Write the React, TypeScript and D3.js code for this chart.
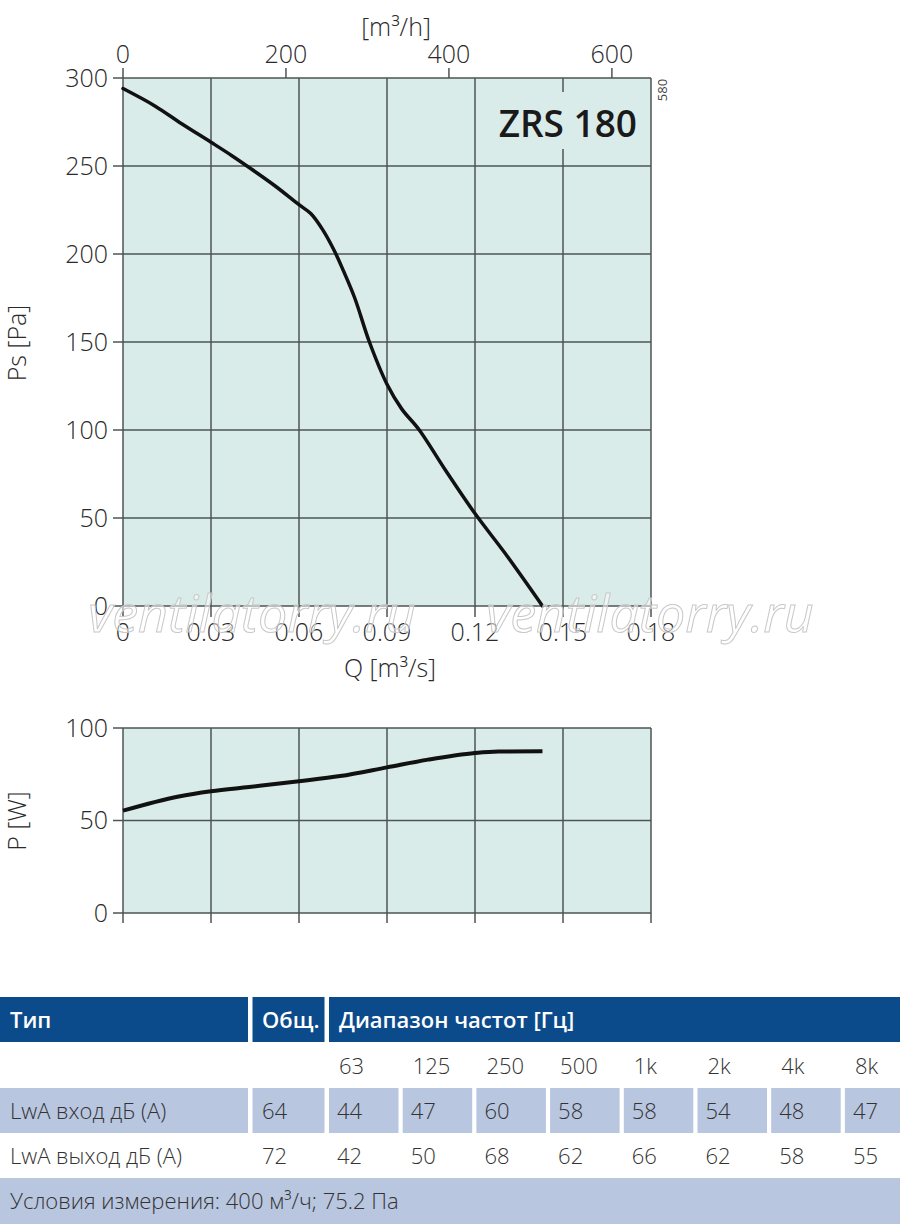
import React, { useEffect, useRef } from "react";
import * as d3 from "d3";

// fan curve: static pressure vs flow
const flowQ = [0, 0.011, 0.02, 0.03, 0.037, 0.044, 0.052, 0.06, 0.064, 0.068, 0.072, 0.075, 0.079, 0.084, 0.09, 0.095, 0.101, 0.11, 0.12, 0.13, 0.143];
const pressurePs = [294, 284, 274, 263.5, 256, 248, 238.5, 228, 223, 214, 202, 191, 175, 150, 126, 112, 100, 77, 52.5, 30.5, 0];

// power curve
const powerQ = [0, 0.019, 0.03, 0.043, 0.06, 0.074, 0.09, 0.104, 0.12, 0.128, 0.143];
const powerP = [55.3, 63, 65.8, 68.1, 71.2, 74, 78.7, 82.9, 86.5, 87.3, 87.4];

const qTicks = [0, 0.03, 0.06, 0.09, 0.12, 0.15, 0.18];
const qTickLabels = ["0", "0.03", "0.06", "0.09", "0.12", "0.15", "0.18"];
const m3hTicks = [0, 200, 400, 600];
const psTicks = [0, 50, 100, 150, 200, 250, 300];
const pTicks = [0, 50, 100];

// sound table
const freqBands = ["63", "125", "250", "500", "1k", "2k", "4k", "8k"];
const inletTotal = "64";
const inletLevels = [44, 47, 60, 58, 58, 54, 48, 47];
const outletTotal = "72";
const outletLevels = [42, 50, 68, 62, 66, 62, 58, 55];

const FONT = "'Open Sans', 'Noto Sans', sans-serif";
const GRID = "#4d5553";
const BG = "#d9ecea";

const App = () => {
  const svgRef = useRef<SVGSVGElement | null>(null);

  useEffect(() => {
    const svg = d3.select(svgRef.current);
    svg.selectAll("*").remove();

    const left = 123;
    const right = 651;

    const x = d3.scaleLinear().domain([0, 0.18]).range([left, right]);
    const xh = d3.scaleLinear().domain([0, 0.18 * 3600]).range([left, right]);
    const y = d3.scaleLinear().domain([0, 300]).range([606, 78]);
    const yp = d3.scaleLinear().domain([0, 100]).range([913, 728]);

    // ---- main chart ----
    const main = svg.append("g");
    main
      .append("rect")
      .attr("x", left)
      .attr("y", y(300))
      .attr("width", right - left)
      .attr("height", y(0) - y(300))
      .attr("fill", BG);

    main
      .selectAll("line.h")
      .data(psTicks)
      .enter()
      .append("line")
      .attr("x1", left - 10)
      .attr("x2", right)
      .attr("y1", (d) => y(d))
      .attr("y2", (d) => y(d))
      .attr("stroke", GRID)
      .attr("stroke-width", 1.5);

    main
      .selectAll("line.v")
      .data(qTicks)
      .enter()
      .append("line")
      .attr("x1", (d) => x(d))
      .attr("x2", (d) => x(d))
      .attr("y1", y(300))
      .attr("y2", y(0) + 11)
      .attr("stroke", GRID)
      .attr("stroke-width", 1.5);

    // top m3/h ticks
    main
      .selectAll("line.t")
      .data(m3hTicks)
      .enter()
      .append("line")
      .attr("x1", (d) => xh(d))
      .attr("x2", (d) => xh(d))
      .attr("y1", y(300) - 10)
      .attr("y2", y(300))
      .attr("stroke", GRID)
      .attr("stroke-width", 1.5);

    // gap in gridline behind the model name
    main
      .append("rect")
      .attr("x", x(0.15) - 2)
      .attr("y", 92)
      .attr("width", 4)
      .attr("height", 57)
      .attr("fill", BG);

    main
      .append("text")
      .attr("x", 637)
      .attr("y", 137)
      .attr("text-anchor", "end")
      .attr("font-family", FONT)
      .attr("font-weight", 600)
      .attr("font-size", 37)
      .attr("fill", "#1a1a1a")
      .text("ZRS 180");

    main
      .append("text")
      .attr("transform", "translate(667,90) rotate(-90)")
      .attr("text-anchor", "middle")
      .attr("font-family", FONT)
      .attr("font-size", 13)
      .attr("fill", "#444")
      .text("580");

    const tickText = (g: any) =>
      g.attr("font-family", FONT).attr("font-size", 25).attr("font-weight", 300).attr("fill", "#2a2a2a");

    main
      .selectAll("text.ps")
      .data(psTicks)
      .enter()
      .append("text")
      .attr("x", 108)
      .attr("y", (d) => y(d))
      .attr("dy", "0.35em")
      .attr("text-anchor", "end")
      .call(tickText)
      .text((d) => d);

    main
      .selectAll("text.q")
      .data(qTicks)
      .enter()
      .append("text")
      .attr("x", (d) => x(d))
      .attr("y", 632)
      .attr("dy", "0.35em")
      .attr("text-anchor", "middle")
      .call(tickText)
      .text((d, i) => qTickLabels[i]);

    main
      .selectAll("text.h")
      .data(m3hTicks)
      .enter()
      .append("text")
      .attr("x", (d) => xh(d))
      .attr("y", 54)
      .attr("dy", "0.35em")
      .attr("text-anchor", "middle")
      .call(tickText)
      .text((d) => d);

    main
      .append("text")
      .attr("x", 396)
      .attr("y", 27)
      .attr("dy", "0.35em")
      .attr("text-anchor", "middle")
      .call(tickText)
      .text("[m³/h]");

    main
      .append("text")
      .attr("x", 390)
      .attr("y", 668)
      .attr("dy", "0.35em")
      .attr("text-anchor", "middle")
      .call(tickText)
      .text("Q [m³/s]");

    main
      .append("text")
      .attr("transform", "translate(17,343) rotate(-90)")
      .attr("dy", "0.35em")
      .attr("text-anchor", "middle")
      .call(tickText)
      .text("Ps [Pa]");

    const fanLine = d3
      .line<number>()
      .x((d, i) => x(flowQ[i]))
      .y((d) => y(d))
      .curve(d3.curveCatmullRom.alpha(0.5));

    main
      .append("path")
      .attr("d", fanLine(pressurePs))
      .attr("fill", "none")
      .attr("stroke", "#111")
      .attr("stroke-width", 3.5)
      .attr("stroke-linecap", "round");

    // watermark
    svg
      .selectAll("text.wm")
      .data([252, 650])
      .enter()
      .append("text")
      .attr("x", (d) => d)
      .attr("y", 632)
      .attr("text-anchor", "middle")
      .attr("font-family", FONT)
      .attr("font-style", "italic")
      .attr("font-size", 52)
      .attr("fill", "rgba(255,255,255,0.5)")
      .attr("stroke", "#c8c8c8")
      .attr("stroke-width", 1)
      .text("ventilatorry.ru");

    // ---- power chart ----
    const pw = svg.append("g");
    pw.append("rect")
      .attr("x", left)
      .attr("y", yp(100))
      .attr("width", right - left)
      .attr("height", yp(0) - yp(100))
      .attr("fill", BG);

    pw.selectAll("line.h")
      .data(pTicks)
      .enter()
      .append("line")
      .attr("x1", left - 10)
      .attr("x2", right)
      .attr("y1", (d) => yp(d))
      .attr("y2", (d) => yp(d))
      .attr("stroke", GRID)
      .attr("stroke-width", 1.5);

    pw.selectAll("line.v")
      .data(qTicks)
      .enter()
      .append("line")
      .attr("x1", (d) => x(d))
      .attr("x2", (d) => x(d))
      .attr("y1", yp(100))
      .attr("y2", yp(0) + 10)
      .attr("stroke", GRID)
      .attr("stroke-width", 1.5);

    pw.selectAll("text.p")
      .data(pTicks)
      .enter()
      .append("text")
      .attr("x", 108)
      .attr("y", (d) => yp(d))
      .attr("dy", "0.35em")
      .attr("text-anchor", "end")
      .call(tickText)
      .text((d) => d);

    pw.append("text")
      .attr("transform", "translate(17,821) rotate(-90)")
      .attr("dy", "0.35em")
      .attr("text-anchor", "middle")
      .call(tickText)
      .text("P [W]");

    const powerLine = d3
      .line<number>()
      .x((d, i) => x(powerQ[i]))
      .y((d) => yp(d))
      .curve(d3.curveMonotoneX);

    pw.append("path")
      .attr("d", powerLine(powerP))
      .attr("fill", "none")
      .attr("stroke", "#111")
      .attr("stroke-width", 4);

    // ---- sound table ----
    const tb = svg.append("g").attr("font-family", FONT);
    const headBlue = "#0b4a8b";
    const rowBlue = "#b9c6e0";
    const colX = (i: number) => 329 + i * 73.7;
    const colW = 69.5;

    tb.append("rect").attr("x", 0).attr("y", 997).attr("width", 248).attr("height", 45).attr("fill", headBlue);
    tb.append("rect").attr("x", 252.5).attr("y", 997).attr("width", 72).attr("height", 45).attr("fill", headBlue);
    tb.append("rect").attr("x", 329).attr("y", 997).attr("width", 571).attr("height", 45).attr("fill", headBlue);

    const head = [
      { x: 10, t: "Тип" },
      { x: 262, t: "Общ." },
      { x: 339, t: "Диапазон частот [Гц]" },
    ];
    tb.selectAll("text.head")
      .data(head)
      .enter()
      .append("text")
      .attr("x", (d) => d.x)
      .attr("y", 1020)
      .attr("dy", "0.35em")
      .attr("font-size", 22)
      .attr("font-weight", 600)
      .attr("fill", "#fff")
      .text((d) => d.t);

    const bodyText = (g: any) =>
      g.attr("font-size", 22).attr("font-weight", 300).attr("fill", "#333").attr("dy", "0.35em");

    tb.selectAll("text.band")
      .data(freqBands)
      .enter()
      .append("text")
      .attr("x", (d, i) => colX(i) + 10)
      .attr("y", 1066)
      .call(bodyText)
      .text((d) => d);

    // inlet row background
    tb.append("rect").attr("x", 0).attr("y", 1088).attr("width", 248).attr("height", 45).attr("fill", rowBlue);
    tb.append("rect").attr("x", 252.5).attr("y", 1088).attr("width", 72).attr("height", 45).attr("fill", rowBlue);
    tb.selectAll("rect.cell")
      .data(inletLevels)
      .enter()
      .append("rect")
      .attr("x", (d, i) => colX(i))
      .attr("y", 1088)
      .attr("width", colW)
      .attr("height", 45)
      .attr("fill", rowBlue);

    const rows = [
      { label: "LwA вход дБ (А)", total: inletTotal, vals: inletLevels, y: 1111 },
      { label: "LwA выход дБ (А)", total: outletTotal, vals: outletLevels, y: 1156 },
    ];
    rows.forEach((r) => {
      tb.append("text").attr("x", 10).attr("y", r.y).call(bodyText).text(r.label);
      tb.append("text").attr("x", 262).attr("y", r.y).call(bodyText).text(r.total);
      tb.selectAll(null)
        .data(r.vals)
        .enter()
        .append("text")
        .attr("x", (d, i) => colX(i) + 8)
        .attr("y", r.y)
        .call(bodyText)
        .text((d) => d);
    });

    tb.append("rect").attr("x", 0).attr("y", 1178).attr("width", 900).attr("height", 46).attr("fill", rowBlue);
    tb.append("text").attr("x", 10).attr("y", 1201).call(bodyText).text("Условия измерения: 400 м³/ч; 75.2 Па");
  }, []);

  return (
    <div style={{ position: "absolute", left: 0, top: 0 }}>
      <svg ref={svgRef} width={900} height={1227} style={{ display: "block", background: "#fff" }}></svg>
    </div>
  );
};

export default App;
